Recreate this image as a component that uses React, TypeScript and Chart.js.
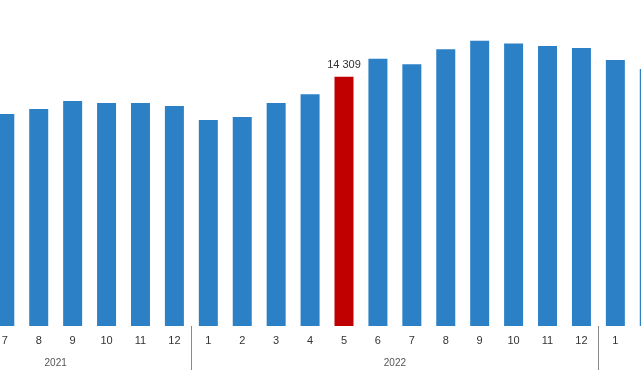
import React, { useEffect, useRef } from "react";
import { Chart, registerables } from "chart.js";

Chart.register(...registerables);

// Years shown on the axis and the months belonging to each year
const yearLabels = ["2021", "2022", "2023"];
const monthsPerYear: string[][] = [
  ["5", "6", "7", "8", "9", "10", "11", "12"],
  ["1", "2", "3", "4", "5", "6", "7", "8", "9", "10", "11", "12"],
  ["1", "2", "3", "4", "5"],
];

// Monthly values (null = outside the visible crop / not readable)
const values2021: (number | null)[] = [null, null, 12170, 12450, 12910, 12800, 12800, 12630];
const values2022: (number | null)[] = [11820, 12000, 12800, 13300, 14309, 15340, 15020, 15880, 16370, 16220, 16070, 15960];
const values2023: (number | null)[] = [15270, 14750, null, null, null];

const highlightYear = "2022";
const highlightMonth = "5";

const blue = "#2b80c6";
const red = "#c00000";

export default function App() {
  const ref = useRef<HTMLCanvasElement | null>(null);

  useEffect(() => {
    const canvas = ref.current;
    if (!canvas) return;

    const categories: string[] = [];
    const catYears: string[] = [];
    monthsPerYear.forEach((ms, yi) => {
      ms.forEach((m) => {
        categories.push(m);
        catYears.push(yearLabels[yi]);
      });
    });
    const data = [...values2021, ...values2022, ...values2023];
    const colors = categories.map((m, i) =>
      catYears[i] === highlightYear && m === highlightMonth ? red : blue
    );
    const hiIndex = categories.findIndex(
      (m, i) => catYears[i] === highlightYear && m === highlightMonth
    );

    const groupsPlugin = {
      id: "groups",
      afterDraw(chart: any) {
        const { ctx, chartArea } = chart;
        const x = chart.scales.x;
        ctx.save();
        // separators between years
        let idx = 0;
        const bounds: number[] = [];
        monthsPerYear.forEach((ms) => {
          bounds.push(idx);
          idx += ms.length;
        });
        ctx.strokeStyle = "#8a8a8a";
        ctx.lineWidth = 1;
        for (let b = 1; b < bounds.length; b++) {
          const i = bounds[b];
          const px = Math.round((x.getPixelForValue(i - 1) + x.getPixelForValue(i)) / 2) + 0.5;
          ctx.beginPath();
          ctx.moveTo(px, chartArea.bottom);
          ctx.lineTo(px, chartArea.bottom + 44);
          ctx.stroke();
        }
        // year labels
        ctx.fillStyle = "#555";
        ctx.font = "10px 'Liberation Sans', Arial, sans-serif";
        ctx.textAlign = "center";
        ctx.textBaseline = "middle";
        monthsPerYear.forEach((ms, yi) => {
          const a = x.getPixelForValue(bounds[yi]);
          const bpx = x.getPixelForValue(bounds[yi] + ms.length - 1);
          ctx.fillText(yearLabels[yi], (a + bpx) / 2, chartArea.bottom + 37);
        });
        // highlighted value label
        const meta = chart.getDatasetMeta(0);
        const el = meta.data[hiIndex];
        if (el) {
          ctx.fillStyle = "#333";
          ctx.font = "11px 'Liberation Sans', Arial, sans-serif";
          ctx.textBaseline = "bottom";
          const v = data[hiIndex] as number;
          const txt = v.toLocaleString("en-US").replace(/,/g, " ");
          ctx.fillText(txt, el.x, el.y - 6);
        }
        ctx.restore();
      },
    };

    const chart = new Chart(canvas, {
      type: "bar",
      data: {
        labels: categories,
        datasets: [
          {
            data,
            backgroundColor: colors,
            barPercentage: 0.7,
            categoryPercentage: 0.8,
          },
        ],
      },
      options: {
        responsive: false,
        animation: false,
        layout: { padding: 0 },
        plugins: {
          legend: { display: false },
          tooltip: { enabled: false },
        },
        scales: {
          x: {
            grid: { display: false, drawTicks: false },
            border: { display: false },
            ticks: {
              color: "#333",
              font: { size: 11, family: "'Liberation Sans', Arial, sans-serif" },
              padding: 8,
              maxRotation: 0,
              autoSkip: false,
            },
            afterFit: (axis: any) => {
              axis.height = 54;
            },
          },
          y: {
            display: false,
            min: 0,
            max: 18711,
          },
        },
      },
      plugins: [groupsPlugin],
    });
    return () => chart.destroy();
  }, []);

  return (
    <div
      style={{
        position: "fixed",
        left: 0,
        top: 0,
        width: 641,
        height: 380,
        overflow: "hidden",
        background: "#fff",
      }}
    >
      <canvas
        ref={ref}
        width={848}
        height={380}
        style={{ position: "absolute", left: -80, top: 0, width: 848, height: 380 }}
      />
    </div>
  );
}
